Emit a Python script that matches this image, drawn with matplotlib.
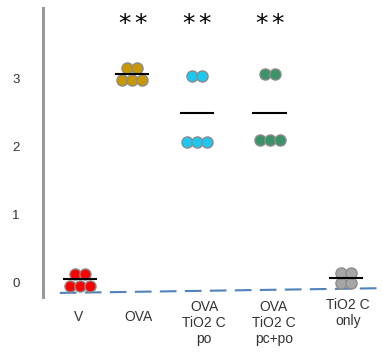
import matplotlib
matplotlib.use("Agg")
import matplotlib.pyplot as plt
import matplotlib.transforms as mtransforms

plt.rcParams['font.family'] = ['Liberation Sans', 'DejaVu Sans']

# Data
categories = ["V", "OVA", "OVA\nTiO2 C\npo", "OVA\nTiO2 C\npc+po", "TiO2 C\nonly"]
group_pos = [0.03, 0.80, 1.76, 2.84, 3.97]
label_pos = [0.0, 0.89, 1.87, 2.90, 4.0]
# each group: list of (value, n dots in row)
rows = [
    [(-0.06, 3), (0.12, 2)],
    [(2.97, 3), (3.15, 2)],
    [(2.06, 3), (3.03, 2)],
    [(2.09, 3), (3.06, 2)],
    [(-0.01, 2), (0.13, 2)],
]
means = [0.04, 3.06, 2.49, 2.49, 0.06]
colors = ["#FF0000", "#C99700", "#1BC8F2", "#3A9468", "#A6A6A6"]
n_stars = [0, 2, 2, 2, 0]
star_y = 3.8
trend_x = [-0.27, 4.52]
trend_y = [-0.16, -0.09]
yticks = [0, 1, 2, 3]

W, H = 383, 355
fig = plt.figure(figsize=(W / 100, H / 100), dpi=100)
ax = fig.add_axes([43 / W, 1 - 297 / H, (383 - 43) / W, (297 - 8) / H])
ax.set_xlim(-0.52, 4.52)
ax.set_ylim(-0.22, 4.03)

dx = 10 / 67.5  # spacing of dots in data units
for i in range(len(categories)):
    for val, n in rows[i]:
        offs = [(k - (n - 1) / 2) * dx for k in range(n)]
        ax.plot([group_pos[i] + o for o in offs], [val] * n, 'o', ms=8,
                mfc=colors[i], mec="#8C8C8C", mew=1.0, zorder=3)
    ax.plot([group_pos[i] - 0.24, group_pos[i] + 0.24], [means[i]] * 2,
            color='black', lw=1.5, zorder=4)
    for k in range(n_stars[i]):
        off_px = (k - (n_stars[i] - 1) / 2) * 16
        ax.annotate("*", (group_pos[i], star_y), xytext=(off_px * 0.72, 0),
                    textcoords='offset points', ha='center', va='center',
                    fontsize=18, family='DejaVu Sans', color='#000000')

ax.plot(trend_x, trend_y, color='#4F81BD', lw=1.5, dashes=(8, 4), zorder=2)

ax.set_yticks(yticks)
ax.tick_params(axis='y', length=0, pad=17, labelsize=9.5, labelcolor='#333333')
ax.set_xticks([])
for s in ['top', 'right', 'bottom']:
    ax.spines[s].set_visible(False)
ax.spines['left'].set_color('#999999')
ax.spines['left'].set_linewidth(2.2)

trans = mtransforms.blended_transform_factory(ax.transData, fig.transFigure)
label_top_px = [310, 310, 300, 300, 298]
for i, lab in enumerate(categories):
    ax.text(label_pos[i], 1 - label_top_px[i] / H, lab, transform=trans,
            ha='center', va='top', fontsize=10, color='#333333',
            linespacing=1.2, multialignment='center')

fig.savefig("out.png", dpi=100)
